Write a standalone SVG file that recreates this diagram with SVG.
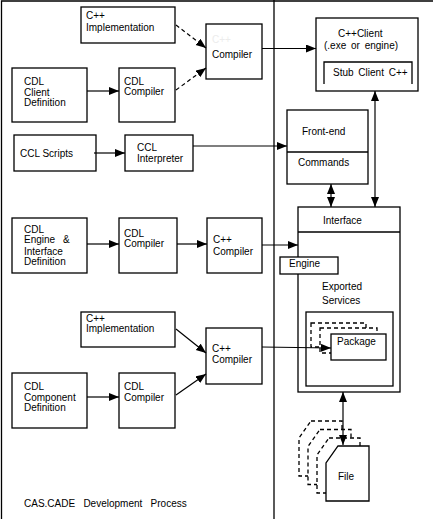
<svg xmlns="http://www.w3.org/2000/svg" width="433" height="519" viewBox="0 0 433 519">
<style>
.box{fill:#fff;stroke:#000;stroke-width:1.3}
.dbox{fill:#fff;stroke:#000;stroke-width:1.3;stroke-dasharray:4 3}
text{font-family:"Liberation Sans",Arial,sans-serif;font-size:10px;fill:#000}
.c{fill:none;stroke:#000;stroke-width:1.2}
.arr{marker-end:url(#ah)}
.bi{marker-end:url(#ah);marker-start:url(#ah)}
.dash{stroke-dasharray:4 3}
</style>
<defs>
<marker id="ah" markerUnits="userSpaceOnUse" markerWidth="11" markerHeight="9" refX="10" refY="4" orient="auto-start-reverse">
<path d="M0,0 L10,4 L0,8 z" fill="#000"/>
</marker>
</defs>
<rect width="433" height="519" fill="#fff"/>
<g id="frame">
<path d="M1.5,519 V1 H433" fill="none" stroke="#000" stroke-width="1.3"/>
<line x1="274" y1="0" x2="274" y2="519" stroke="#000" stroke-width="1.3"/>
</g>

<g id="cpp-impl-top">
<rect class="box" x="81" y="7" width="94" height="36"/>
<text x="86" y="19">C++</text>
<text x="86" y="31">Implementation</text>
</g>
<g id="compiler-top">
<rect class="box" x="206" y="24" width="56" height="55"/>
<text x="212" y="43" style="fill:#ececec">C++</text>
<text x="212" y="58">Compiler</text>
</g>
<g id="cdl-client-def">
<rect class="box" x="12" y="68" width="75" height="54"/>
<text x="24" y="85">CDL</text>
<text x="24" y="96">Client</text>
<text x="24" y="106">Definition</text>
</g>
<g id="cdl-compiler-top">
<rect class="box" x="119" y="68" width="56" height="54"/>
<text x="124" y="85">CDL</text>
<text x="124" y="95">Compiler</text>
</g>
<g id="ccl-scripts">
<rect class="box" x="14" y="135" width="82" height="36"/>
<text x="20" y="157">CCL Scripts</text>
</g>
<g id="ccl-interpreter">
<rect class="box" x="125" y="135" width="68" height="36"/>
<text x="137" y="151">CCL</text>
<text x="137" y="162">Interpreter</text>
</g>

<g id="cdl-engine-def">
<rect class="box" x="12" y="218" width="75" height="55"/>
<text x="24" y="233">CDL</text>
<text x="24" y="243" style="word-spacing:5px">Engine &amp;</text>
<text x="24" y="255">Interface</text>
<text x="24" y="265">Definition</text>
</g>
<g id="cdl-compiler-mid">
<rect class="box" x="119" y="218" width="58" height="55"/>
<text x="124" y="237">CDL</text>
<text x="124" y="247">Compiler</text>
</g>
<g id="cpp-compiler-mid">
<rect class="box" x="207" y="218" width="55" height="55"/>
<text x="213" y="243">C++</text>
<text x="213" y="255">Compiler</text>
</g>

<g id="cpp-impl-bottom">
<rect class="box" x="81" y="312" width="94" height="35"/>
<text x="86" y="322">C++</text>
<text x="86" y="332">Implementation</text>
</g>
<g id="cpp-compiler-bottom">
<rect class="box" x="206" y="328" width="56" height="56"/>
<text x="212" y="352">C++</text>
<text x="212" y="363">Compiler</text>
</g>
<g id="cdl-component-def">
<rect class="box" x="12" y="373" width="75" height="55"/>
<text x="24" y="390">CDL</text>
<text x="24" y="401">Component</text>
<text x="24" y="411">Definition</text>
</g>
<g id="cdl-compiler-bottom">
<rect class="box" x="119" y="373" width="56" height="55"/>
<text x="124" y="390">CDL</text>
<text x="124" y="401">Compiler</text>
</g>
<g id="caption">
<text x="24" y="507" style="word-spacing:5.5px">CAS.CADE Development Process</text>
</g>

<g id="cpp-client">
<rect class="box" x="316" y="18" width="102" height="73"/>
<text x="338" y="37">C++Client</text>
<text x="324" y="49" style="word-spacing:2px">(.exe or engine)</text>
<path d="M324,84 V62 H412 V84" fill="none" stroke="#000" stroke-width="1.3"/>
<text x="333" y="76" style="word-spacing:2px">Stub Client C++</text>
</g>
<g id="front-end">
<rect class="box" x="287" y="110" width="81" height="74"/>
<line x1="287" y1="152" x2="368" y2="152" stroke="#000" stroke-width="1.3"/>
<text x="302" y="135">Front-end</text>
<text x="298" y="166">Commands</text>
</g>
<g id="interface">
<rect class="box" x="298" y="207" width="102" height="185"/>
<line x1="298" y1="232" x2="400" y2="232" stroke="#000" stroke-width="1.3"/>
<text x="323" y="224">Interface</text>
<text x="322" y="290">Exported</text>
<text x="322" y="304">Services</text>
<rect class="box" x="306" y="312" width="87" height="74"/>
</g>
<g id="engine">
<rect class="box" x="280" y="257" width="58" height="17"/>
<text x="289" y="267">Engine</text>
</g>
<g id="package">
<rect class="dbox" x="311" y="323" width="55" height="24"/>
<rect class="dbox" x="320" y="328" width="57" height="25"/>
<rect class="box" x="331" y="334" width="55" height="26"/>
<text x="337" y="345">Package</text>
</g>
<g id="file">
<path class="dbox" d="M311,421 H342 V476 H299 V438 Z"/>
<path class="dbox" d="M320,429.5 H351 V484.5 H308 V446.5 Z"/>
<path class="dbox" d="M329,438 H360 V493 H317 V455 Z"/>
<path class="box" d="M338,446 H369 V501 H326 V463 Z"/>
<text x="338" y="480">File</text>
</g>

<g id="connectors">
<line class="c arr dash" x1="176" y1="25" x2="206" y2="48"/>
<line class="c arr dash" x1="176" y1="90" x2="206" y2="68"/>
<line class="c arr" x1="87" y1="91" x2="119" y2="91"/>
<line class="c arr" x1="262" y1="48.5" x2="316" y2="48.5"/>
<line class="c arr" x1="94" y1="153" x2="125" y2="153"/>
<line class="c arr" x1="193" y1="146" x2="287" y2="146"/>
<line class="c bi" x1="375" y1="91" x2="375" y2="207"/>
<line class="c bi" x1="331" y1="184" x2="331" y2="207"/>
<line class="c arr" x1="87" y1="244" x2="119" y2="244"/>
<line class="c arr" x1="177" y1="244" x2="207" y2="244"/>
<line class="c arr" x1="262" y1="245" x2="298" y2="245"/>
<line class="c arr" x1="176" y1="329" x2="206" y2="353"/>
<line class="c arr" x1="176" y1="395" x2="206" y2="374"/>
<line class="c arr" x1="87" y1="397" x2="119" y2="397"/>
<line class="c arr" x1="262" y1="347" x2="331" y2="348"/>
<line class="c bi" x1="343" y1="392" x2="343" y2="445"/>
</g>
</svg>
